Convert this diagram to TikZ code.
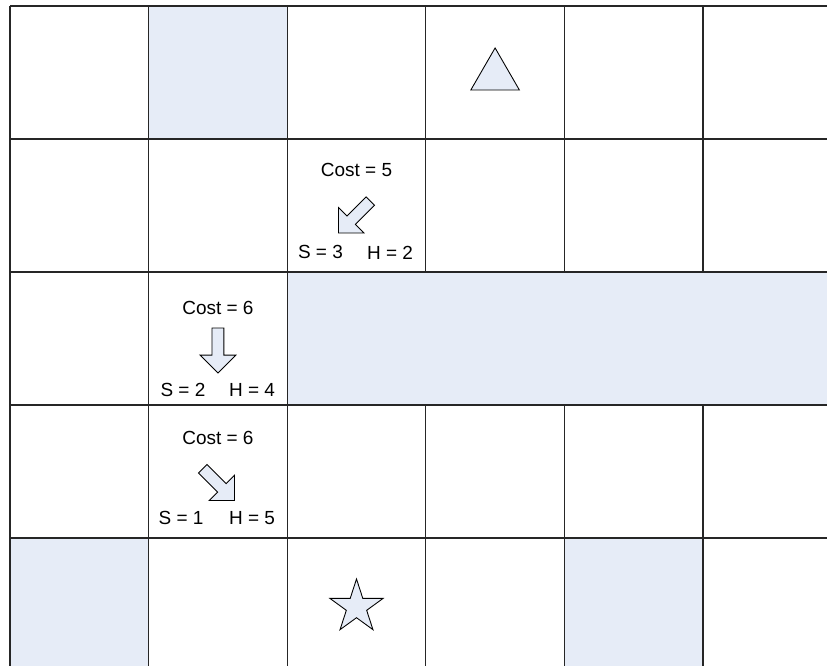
\documentclass[tikz,border=0pt]{standalone}
\usepackage{fontspec}
\setmainfont{Liberation Sans}
\usetikzlibrary{shapes.arrows, shapes.geometric}
\definecolor{shadecolor}{RGB}{230, 236, 247}

\begin{document}
\begin{tikzpicture}[x=2.772cm, y=-2.66cm,
    gridline/.style={line width=0.7pt, black!85},
    celltext/.style={font=\fontsize{10.8}{12}\selectfont, inner sep=0pt},
    movearrow/.style={single arrow, draw=black, line width=0.5pt, fill=shadecolor,
        minimum height=0.9cm, single arrow head extend=0.24cm, inner xsep=0pt, inner ysep=0.11cm},
    marker/.style={draw=black, line width=0.5pt, fill=shadecolor, inner sep=0pt}]
    % Edges of the visible part of the grid
    \newcommand{\rightedge}{5.8947}
    \newcommand{\bottomedge}{4.9624}
    \useasboundingbox (-0.0722,-0.0451) rectangle (\rightedge,\bottomedge);

    % Blocked cells
    \fill[shadecolor] (1,0) rectangle ++(1,1);
    \fill[shadecolor] (0,4) rectangle (1,\bottomedge);
    \fill[shadecolor] (4,4) rectangle (5,\bottomedge);
    \fill[shadecolor] (2,2) rectangle (\rightedge,3);

    % Grid lines
    \foreach \r in {0,...,4}
        \draw[gridline] (0,\r) -- (\rightedge,\r);
    \foreach \c in {0,1,2}
        \draw[gridline] (\c,0) -- (\c,\bottomedge);
    \foreach \c in {3,4,5} {
        \draw[gridline] (\c,0) -- (\c,2);
        \draw[gridline] (\c,3) -- (\c,\bottomedge);
    }

    % Goal and start
    \node[marker, regular polygon, regular polygon sides=3, minimum size=1.12cm] (goal) at (3.5,0.526) {};
    \node[marker, star, star points=5, star point ratio=2.618, minimum size=1.12cm] (start) at (2.5,4.519) {};

    % Path cells
    \node[celltext] (costa) at (2.5,1.235) {Cost = 5};
    \node[movearrow, rotate=-135] (movea) at (2.5,1.571) {};
    \node[celltext] (sa) at (2.24,1.853) {S = 3};
    \node[celltext] (ha) at (2.742,1.853) {H = 2};

    \node[celltext] (costb) at (1.5,2.267) {Cost = 6};
    \node[movearrow, rotate=-90] (moveb) at (1.5,2.568) {};
    \node[celltext] (sb) at (1.248,2.887) {S = 2};
    \node[celltext] (hb) at (1.746,2.887) {H = 4};

    \node[celltext] (costc) at (1.5,3.248) {Cost = 6};
    \node[movearrow, rotate=-45] (movec) at (1.49,3.583) {};
    \node[celltext] (sc) at (1.234,3.852) {S = 1};
    \node[celltext] (hc) at (1.746,3.852) {H = 5};
\end{tikzpicture}
\end{document}
